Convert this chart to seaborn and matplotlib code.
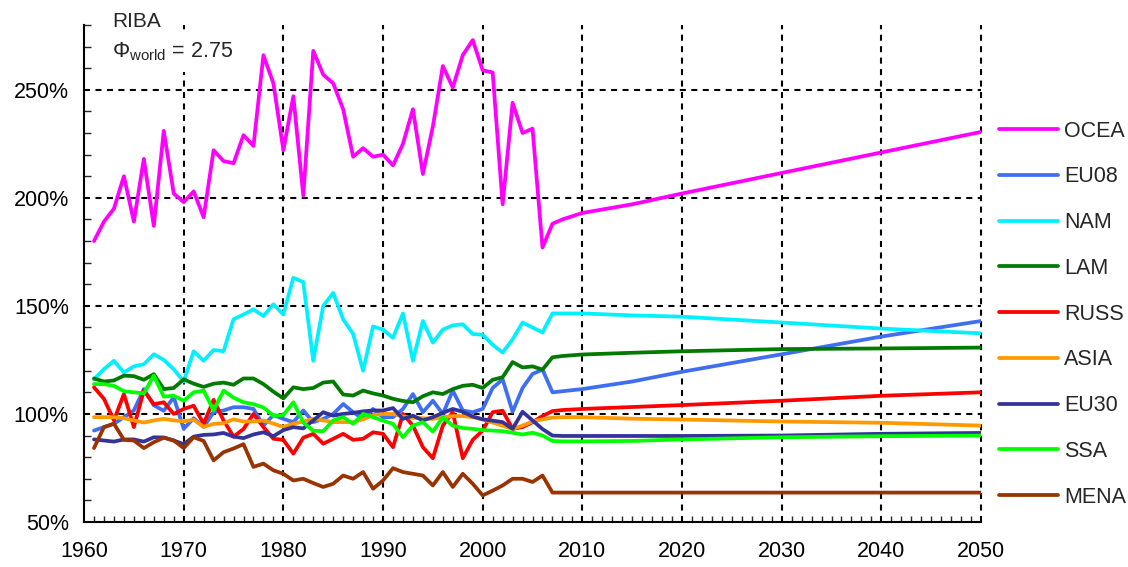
import matplotlib
matplotlib.use("Agg")
import matplotlib.pyplot as plt
import matplotlib.ticker as mticker
import numpy as np
import pandas as pd
import seaborn as sns

hist_years = list(range(1961, 2007))
proj_years = [2007, 2008, 2010, 2015, 2020, 2030, 2040, 2050]

regions = ["OCEA", "EU08", "NAM", "LAM", "RUSS", "ASIA", "EU30", "SSA", "MENA"]
colors = ["#ff00ff", "#3f6ff0", "#00f0ff", "#007a00", "#ff0000",
          "#ff9900", "#333399", "#00ff00", "#993300"]

ocea_hist = [180, 189, 195, 210, 189, 218, 187, 231, 202, 198,
             203, 191, 222, 217, 216, 229, 224, 266, 253, 222,
             247, 201, 268, 257, 253, 241, 219, 223, 219, 220,
             215, 225, 241, 211, 233, 261, 251, 266, 273, 259,
             258, 197, 244, 230, 232, 177]
ocea_proj = [188, 190, 193, 197, 202, 211.5, 221, 230.5]

eu08_hist = [92.3, 93.9, 95.4, 98.5, 101.6, 111.5, 104, 101.5, 107.7, 93.1,
             98, 94, 100.8, 101.6, 103.1, 103.1, 102.3, 94.6, 99.5, 97.7,
             96.2, 101.6, 96.2, 97.7, 100, 104.6, 100.8, 97.7, 102.3, 98.5,
             98.5, 102.3, 109.2, 100.8, 106.1, 100, 110.8, 101.6, 100.8, 102.3,
             112, 116, 101, 112, 118.5, 120.5]
eu08_proj = [110, 110.5, 111.5, 115, 119.5, 127.6, 135.8, 143]

nam_hist = [116, 120.7, 124.6, 119.2, 122, 123, 127.6, 125, 120.7, 115,
            129, 124.6, 129.6, 129, 143.8, 146, 148.4, 145.3, 150.7, 146,
            163, 161, 124.6, 150, 156, 143.8, 137, 120, 140.5, 139,
            135.2, 146.5, 124.6, 143, 133, 139, 141, 141.5, 137, 136.6,
            132, 128.4, 134.5, 142.3, 140, 137.7]
nam_proj = [146.5, 146.5, 146.5, 145.6, 145, 142.3, 139.5, 137.3]

lam_hist = [116.4, 115, 115.5, 117.7, 117.5, 115.8, 118.4, 111.5, 112, 116,
            114, 112.5, 114, 114.5, 113.5, 116.4, 116.4, 113.8, 110.3, 107.2,
            112.3, 111.5, 112, 114.5, 115, 109, 108.5, 110.8, 109.5, 108.5,
            107, 106, 105.4, 108.2, 110, 109.2, 111.5, 113, 113.5, 112,
            115.8, 117, 124, 121.5, 122, 120.5]
lam_proj = [126.2, 126.8, 127.5, 128.3, 129, 130, 130.3, 130.7]

russ_hist = [112.3, 107, 97, 109.2, 93.9, 110.8, 104.5, 105.4, 100, 102.3,
             103.8, 95.4, 106.5, 97, 89.5, 93, 100, 93.9, 88.5, 88,
             81.6, 89, 90.8, 86.2, 88.5, 90.8, 88, 88.5, 91.5, 90.8,
             84.6, 100, 94.6, 84.6, 79.5, 94.6, 100.8, 79.5, 88, 92.3,
             100.8, 101.5, 93.1, 93.9, 96.2, 99]
russ_proj = [101.3, 101.8, 102.3, 103.2, 104.1, 106.1, 108.4, 110]

asia_hist = [98.5, 98.5, 98.5, 98, 97, 96, 97, 97.7, 97, 96.6,
             97.3, 94, 95.4, 95.7, 97.5, 96.5, 96.5, 97, 95.5, 94,
             95.5, 96.5, 97.7, 97, 96.2, 96.2, 96.2, 97.5, 99.5, 100,
             100, 98.8, 98.2, 98, 97.7, 98.5, 99, 99, 98.5, 97.5,
             96, 94.5, 93.1, 94.6, 96.5, 97.5]
asia_proj = [98.3, 98.5, 98.5, 97.8, 97.4, 96.5, 95.9, 94.6]

eu30_hist = [88.2, 87.7, 87.2, 88.2, 88.2, 87.2, 89.2, 89.1, 87.7, 86,
             89.5, 90.3, 90.5, 91.2, 89.5, 88.8, 90.5, 91.5, 89.7, 92.5,
             93.9, 93.3, 97, 100.8, 99.2, 100, 100.5, 101.2, 101.6, 101.6,
             102.7, 97.7, 99.2, 97, 98.5, 100.5, 102.3, 101, 98.8, 97.5,
             96.9, 96.2, 93.1, 101, 97, 93]
eu30_proj = [90, 89.8, 89.8, 89.8, 89.8, 90, 90.8, 91.2]

ssa_hist = [113.8, 113.8, 113, 110.5, 110, 109.5, 117.7, 108, 108.4, 106.1,
            110, 110.8, 101.6, 110.8, 107.5, 105.4, 104.5, 103, 99.2, 99.5,
            105.4, 96, 92.2, 92, 97, 98.5, 95.4, 100, 98.5, 96.9,
            95.4, 89.2, 94.6, 96.2, 91.8, 98.5, 94.5, 93.5, 93.1, 92.5,
            92.3, 92, 91.3, 90.5, 91.3, 90]
ssa_proj = [87.5, 87.3, 87.3, 87.5, 88.2, 89.2, 89.7, 90]

mena_hist = [84.2, 93.9, 95.5, 88, 87.7, 84.2, 86.9, 89, 87.7, 84.2,
             89.2, 87.5, 78.5, 82.3, 84, 86, 75.5, 77, 73.9, 72.3,
             69.2, 70, 68, 66.2, 67.7, 71.5, 70, 73.1, 65.4, 69.2,
             74.9, 73.1, 72.3, 71.5, 66.9, 73.1, 66.2, 72.3, 67.7, 62.3,
             64.5, 66.9, 70, 70, 68.5, 71.5]
mena_proj = [63.6, 63.6, 63.6, 63.6, 63.6, 63.6, 63.6, 63.6]

series = {
    "OCEA": (ocea_hist, ocea_proj),
    "EU08": (eu08_hist, eu08_proj),
    "NAM": (nam_hist, nam_proj),
    "LAM": (lam_hist, lam_proj),
    "RUSS": (russ_hist, russ_proj),
    "ASIA": (asia_hist, asia_proj),
    "EU30": (eu30_hist, eu30_proj),
    "SSA": (ssa_hist, ssa_proj),
    "MENA": (mena_hist, mena_proj),
}

rows = []
for name, (h, p) in series.items():
    for y, v in zip(hist_years + proj_years, h + p):
        rows.append({"year": y, "value": v, "region": name})
df = pd.DataFrame(rows)

sns.set_theme(style="white")
plt.rcParams["font.family"] = ["Liberation Sans", "DejaVu Sans"]
plt.rcParams["mathtext.fontset"] = "custom"
plt.rcParams["mathtext.rm"] = "Liberation Sans"
plt.rcParams["mathtext.it"] = "Liberation Sans:italic"

fig = plt.figure(figsize=(11.28, 5.67), dpi=100)
ax = fig.add_axes([0.0745, 0.0794, 0.7952, 0.8766])

sns.lineplot(data=df, x="year", y="value", hue="region", hue_order=regions,
             palette=colors, linewidth=2.7, ax=ax, legend=False,
             solid_joinstyle="round", solid_capstyle="round")

ax.set_xlim(1960, 2050)
ax.set_ylim(50, 280)
ax.set_xlabel("")
ax.set_ylabel("")

ax.xaxis.set_major_locator(mticker.MultipleLocator(10))
ax.xaxis.set_minor_locator(mticker.MultipleLocator(1))
ax.yaxis.set_major_locator(mticker.FixedLocator([50, 100, 150, 200, 250]))
ax.yaxis.set_minor_locator(mticker.MultipleLocator(10))
ax.yaxis.set_major_formatter(mticker.FuncFormatter(lambda v, pos: f"{v:.0f}%"))

ax.tick_params(axis="x", which="major", direction="inout", length=10, width=1.3,
               labelsize=15.5, pad=9, colors="black")
ax.tick_params(axis="x", which="minor", direction="in", length=4, width=1.0,
               bottom=True)
ax.tick_params(axis="y", which="major", direction="in", length=5, width=1.3,
               labelsize=15.5, pad=11, colors="black")
ax.tick_params(axis="y", which="minor", direction="in", length=5, width=1.0,
               left=True)

for s in ["top", "right"]:
    ax.spines[s].set_visible(False)
for s in ["left", "bottom"]:
    ax.spines[s].set_color("black")
    ax.spines[s].set_linewidth(1.5)

# dotted grid, drawn under the lines
dash = (0, (2.9, 2.6))
for yv in [100, 150, 200, 250]:
    ax.axhline(yv, color="black", lw=1.5, linestyle=dash, zorder=0.5)
for xv in range(1970, 2051, 10):
    ax.axvline(xv, color="black", lw=1.5, linestyle=dash, zorder=0.5,
               clip_on=False)

fig.text(0.0993, 0.952, "RIBA", fontsize=15, va="baseline", ha="left")
fig.text(0.0993, 0.898, r"$\Phi_{\mathrm{world}}$ = 2.75", fontsize=15.5,
         va="baseline", ha="left", zorder=3,
         bbox=dict(facecolor="white", edgecolor="none", pad=6))

handles = [plt.Line2D([0], [0], color=c, lw=2.7, solid_capstyle="round")
           for c in colors]
ax.legend(handles, regions, loc="center left", bbox_to_anchor=(1.01, 0.418),
          frameon=False, fontsize=15.5, handlelength=2.75, handletextpad=0.3,
          labelspacing=1.15, borderaxespad=0)

fig.savefig("out.png", dpi=100, facecolor="white")
